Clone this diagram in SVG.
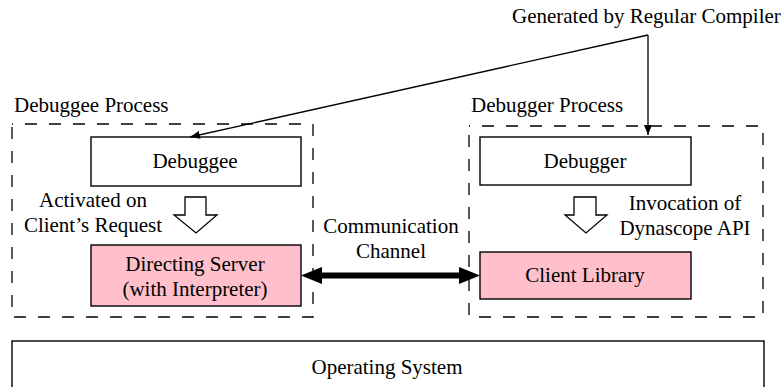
<svg xmlns="http://www.w3.org/2000/svg" width="783" height="387" viewBox="0 0 783 387">
  <style>
    text { font-family: "Liberation Serif", "Times New Roman", serif; font-size: 21px; fill: #000; }
    .mid { text-anchor: middle; }
    .proc { fill: none; stroke: #000; stroke-width: 1.3; stroke-dasharray: 12 12; stroke-dashoffset: 11; }
    .box { fill: #fff; stroke: #000; stroke-width: 1.4; }
    .pink { fill: #ffc0cb; stroke: #000; stroke-width: 1.4; }
    .hollow { fill: #fff; stroke: #000; stroke-width: 1.3; stroke-linejoin: miter; }
    .thin { fill: none; stroke: #000; stroke-width: 1.3; }
  </style>
  <defs>
    <marker id="tip" viewBox="0 0 10 8" refX="10" refY="4" markerWidth="10" markerHeight="8" markerUnits="userSpaceOnUse" orient="auto">
      <path d="M0,0 L10,4 L0,8 Z" fill="#000"/>
    </marker>
  </defs>

  <rect width="783" height="387" fill="#fff"/>

  <!-- process containers -->
  <g id="debuggee-process">
    <rect class="proc" x="12" y="124" width="301" height="193"/>
    <text x="14" y="112">Debuggee Process</text>
  </g>
  <g id="debugger-process">
    <rect class="proc" x="469" y="126" width="294" height="191"/>
    <text x="471" y="112">Debugger Process</text>
  </g>

  <!-- nodes -->
  <g id="debuggee">
    <rect class="box" x="91" y="137" width="210" height="49"/>
    <text class="mid" x="195" y="168">Debuggee</text>
  </g>
  <g id="directing-server">
    <rect class="pink" x="91" y="245" width="210" height="61"/>
    <text class="mid" x="195" y="271">Directing Server</text>
    <text class="mid" x="195" y="296">(with Interpreter)</text>
  </g>
  <g id="debugger">
    <rect class="box" x="480" y="137" width="211" height="48"/>
    <text class="mid" x="585" y="168">Debugger</text>
  </g>
  <g id="client-library">
    <rect class="pink" x="480" y="252" width="211" height="47"/>
    <text class="mid" x="585" y="282">Client Library</text>
  </g>
  <g id="operating-system">
    <rect class="box" x="12" y="341" width="752" height="60"/>
    <text class="mid" x="387" y="374">Operating System</text>
  </g>
  <g id="compiler-label">
    <text x="512" y="23">Generated by Regular Compiler</text>
  </g>

  <!-- connectors -->
  <g id="connectors">
    <path class="thin" d="M648,35 L648,135" marker-end="url(#tip)"/>
    <path class="thin" d="M648,35 L190,137" marker-end="url(#tip)"/>
    <!-- hollow block arrows -->
    <path class="hollow" d="M185,197 L206,197 L206,215 L217,215 L196,233 L174,215 L185,215 Z"/>
    <path class="hollow" d="M574,197 L596,197 L596,215 L607,215 L586,233 L565,215 L574,215 Z"/>
    <!-- communication channel -->
    <line x1="320" y1="275.5" x2="462" y2="275.5" stroke="#000" stroke-width="6"/>
    <path d="M301,275.5 L322,267 L322,284 Z" fill="#000"/>
    <path d="M480,275.5 L459,267 L459,284 Z" fill="#000"/>
  </g>

  <!-- annotations -->
  <g id="annotations">
    <text class="mid" x="93" y="207">Activated on</text>
    <text class="mid" x="93" y="232">Client’s Request</text>
    <text class="mid" x="685" y="210">Invocation of</text>
    <text class="mid" x="685" y="235">Dynascope API</text>
    <text class="mid" x="391" y="233">Communication</text>
    <text class="mid" x="391" y="258">Channel</text>
  </g>
</svg>
